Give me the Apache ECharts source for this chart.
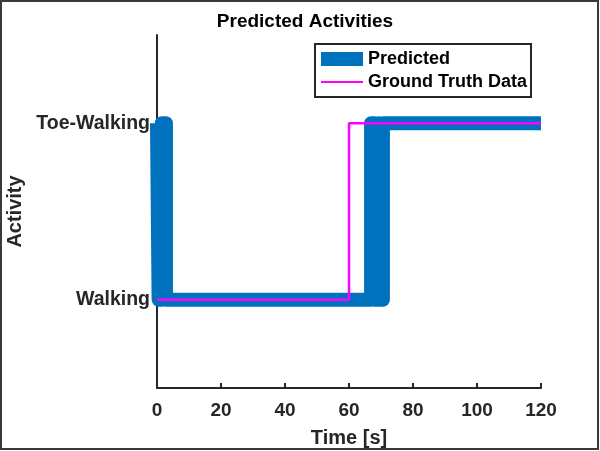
<!DOCTYPE html>
<html>
<head>
<meta charset="utf-8">
<title>Predicted Activities</title>
<script src="https://cdn.jsdelivr.net/npm/echarts@6/dist/echarts.min.js"></script>
<style>
  html, body { margin: 0; padding: 0; background: #fff; }
  #chart { width: 600px; height: 451px; }
</style>
</head>
<body>
<div id="chart"></div>
<script>
// 预测结果（0 = Walking, 1 = Toe-Walking），阶梯保持到下一个点
let predTime = [0, 0.5, 1.5, 2.8, 66.9, 68, 69.3, 69.8, 70.6, 120]
let predValue = [1, 0, 1, 0, 1, 0, 1, 0, 1, 1]
// 真实标签
let truthTime = [0, 60, 120]
let truthValue = [0, 1, 1]
// 坐标轴刻度
let yTickValues = [0, 1]
let yTickLabels = ['Walking', 'Toe-Walking']
let xTicks = [0, 20, 40, 60, 80, 100, 120]

let axisColor = '#262626'
let fontName = '"Liberation Sans", Arial, Helvetica, sans-serif'

function toPairs(xs, ys) {
  let out = []
  for (let i = 0; i < xs.length; i++) {
    out.push([xs[i], ys[i]])
  }
  return out
}

let chart = echarts.init(document.getElementById('chart'), null, { renderer: 'canvas' })

chart.setOption({
  animation: false,
  backgroundColor: '#fff',
  textStyle: { fontFamily: fontName },
  title: {
    text: 'Predicted Activities',
    left: 300,
    top: 7,
    textAlign: 'center',
    textStyle: { fontSize: 19, fontWeight: 'bold', color: '#000', fontFamily: fontName }
  },
  //外框
  graphic: [{
    type: 'rect',
    silent: true,
    shape: { x: 1, y: 1, width: 597, height: 448 },
    style: { fill: 'none', stroke: '#3a3a3a', lineWidth: 2 },
    z: 100
  }],
  legend: {
    orient: 'vertical',
    left: 315,
    top: 44,
    padding: [5, 4, 5, 5],
    itemGap: 3,
    itemWidth: 42,
    itemHeight: 14,
    borderColor: axisColor,
    borderWidth: 2,
    backgroundColor: '#fff',
    textStyle: { fontSize: 18, fontWeight: 'bold', color: '#000', lineHeight: 20, fontFamily: fontName },
    data: [
      { name: 'Predicted', icon: 'rect' },
      { name: 'Ground Truth Data', itemStyle: { opacity: 0 } }
    ]
  },
  grid: {
    left: 157,
    right: 59,
    top: 35,
    bottom: 63,
    containLabel: false,
    outerBoundsMode: 'none'
  },
  xAxis: {
    type: 'value',
    min: xTicks[0],
    max: xTicks[xTicks.length - 1],
    interval: 20,
    name: 'Time [s]',
    nameLocation: 'middle',
    nameGap: 40,
    nameTextStyle: { fontSize: 20, fontWeight: 'bold', color: axisColor, fontFamily: fontName },
    axisLine: { onZero: false, lineStyle: { color: axisColor, width: 2 } },
    axisTick: { inside: true, length: 5, lineStyle: { color: axisColor, width: 2 } },
    axisLabel: { fontSize: 19, fontWeight: 'bold', color: axisColor, margin: 13, fontFamily: fontName },
    splitLine: { show: false }
  },
  yAxis: {
    type: 'value',
    min: -0.5,
    max: 1.5,
    interval: 0.5,
    name: 'Activity',
    nameLocation: 'middle',
    nameGap: 131,
    nameTextStyle: { fontSize: 20, fontWeight: 'bold', color: axisColor, fontFamily: fontName },
    axisLine: { onZero: false, lineStyle: { color: axisColor, width: 2 } },
    axisTick: { inside: true, length: 5, customValues: yTickValues, lineStyle: { color: axisColor, width: 2 } },
    axisLabel: {
      customValues: yTickValues,
      fontSize: 19.5,
      fontWeight: 'bold',
      color: axisColor,
      margin: 7,
      fontFamily: fontName,
      formatter: function (val) {
        let idx = yTickValues.indexOf(val)
        return idx >= 0 ? yTickLabels[idx] : ''
      }
    },
    splitLine: { show: false }
  },
  series: [{
    name: 'Predicted',
    type: 'line',
    step: 'end',
    symbol: 'none',
    clip: false,
    color: '#0072BD',
    itemStyle: { color: '#0072BD' },
    lineStyle: { color: '#0072BD', width: 14, cap: 'butt', join: 'round' },
    data: toPairs(predTime, predValue),
    z: 2
  }, {
    name: 'Ground Truth Data',
    type: 'line',
    step: 'end',
    symbol: 'none',
    clip: false,
    color: '#FF00FF',
    itemStyle: { color: '#FF00FF' },
    lineStyle: { color: '#FF00FF', width: 2.5 },
    data: toPairs(truthTime, truthValue),
    z: 3
  }]
})
</script>
</body>
</html>
